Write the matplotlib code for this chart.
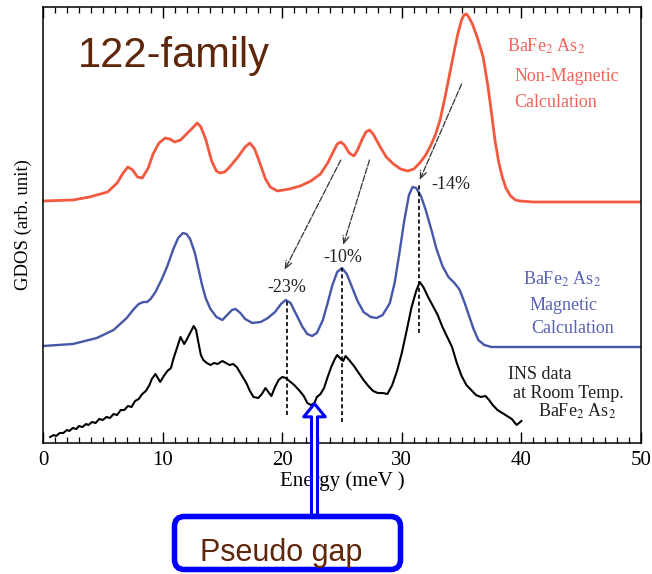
import numpy as np
import matplotlib
matplotlib.use("Agg")
import matplotlib.pyplot as plt
from matplotlib.patches import FancyBboxPatch, FancyArrowPatch
from matplotlib.ticker import MultipleLocator

plt.rcParams['font.family'] = ['Liberation Serif', 'DejaVu Serif']
plt.rcParams['mathtext.fontset'] = 'stix'

# non-magnetic calculation (energy in meV, GDOS in arb. units)
red_e = [0.0, 2.5, 3.9, 5.4, 6.2, 6.7, 7.1, 7.5, 7.9, 8.3, 8.8, 9.2, 9.7, 10.2, 10.6,
         11.0, 11.5, 12.0, 12.5, 12.9, 13.2, 13.6, 14.1, 14.5, 14.8, 15.2, 15.6, 16.3,
         16.9, 17.3, 17.7, 18.1, 18.6, 19.0, 19.6, 20.6, 21.5, 22.4, 23.2, 23.8, 24.3,
         24.6, 24.9, 25.2, 25.6, 26.0, 26.3, 26.7, 27.0, 27.3, 27.6, 28.2, 28.7, 29.3,
         29.9, 30.5, 31.0, 31.5, 32.0, 32.4, 32.8, 33.2, 33.6, 34.0, 34.4, 34.7, 35.0,
         35.2, 35.4, 35.6, 35.9, 36.3, 36.8, 37.2, 37.5, 37.8, 38.1, 38.4, 38.7, 39.1,
         39.5, 39.9, 41.0, 43.0, 46.0, 50.0]
red_v = [242, 243, 246, 251, 260, 270, 276, 273, 266, 265, 275, 289, 300, 305, 304,
         301, 303, 309, 315, 320, 316, 304, 282, 272, 270, 271, 276, 286,
         296, 300, 294, 281, 264, 256, 252, 254, 257, 262, 269, 280, 292,
         299, 301, 298, 290, 287, 293, 304, 311, 313, 309, 296, 286, 279,
         274, 272, 274, 280, 288, 297, 308, 323, 345, 369, 393, 410, 423,
         428, 429, 426, 419, 406, 386, 357, 330, 302, 281, 266, 255, 247,
         243, 242, 241, 241, 241, 241]

# magnetic calculation
blue_e = [0.0, 2.5, 4.5, 5.9, 7.0, 7.6, 8.0, 8.4, 8.7, 9.0, 9.4, 9.9, 10.4, 10.9, 11.3,
          11.7, 12.0, 12.3, 12.7, 13.0, 13.3, 13.6, 14.0, 14.5, 15.0, 15.4, 15.8, 16.1,
          16.5, 16.9, 17.5, 18.2, 18.8, 19.4, 19.9, 20.3, 20.7, 21.2, 21.7, 22.1, 22.5,
          22.9, 23.4, 23.8, 24.2, 24.6, 25.0, 25.4, 25.8, 26.3, 26.8, 27.4, 27.9, 28.4,
          29.0, 29.4, 29.8, 30.2, 30.6, 30.9, 31.2, 31.6, 32.0, 32.5, 32.9, 33.4, 33.9,
          34.4, 34.8, 35.2, 35.6, 36.0, 36.4, 36.9, 37.5, 38.5, 42.0, 50.0]
blue_v = [97, 99, 105, 113, 125, 134, 139, 141, 141, 144, 151, 163, 177, 194, 205,
          210, 209, 204, 190, 174, 158, 145, 134, 126, 123, 128, 133, 134,
          130, 124, 120, 121, 125, 131, 139, 143, 140, 128, 116, 109, 107,
          110, 123, 140, 158, 171, 175, 169, 157, 142, 131, 126, 125, 128,
          140, 160, 190, 222, 248, 256, 255, 247, 233, 212, 194, 177, 166,
          160, 154, 142, 128, 114, 103, 98, 96, 96, 96, 96]

# INS data at room temperature
ins_e = [0.6, 0.9, 1.1, 1.4, 1.7, 2.0, 2.2, 2.5, 2.8, 3.0, 3.3, 3.6, 3.8, 4.1, 4.4, 4.7,
         5.0, 5.3, 5.6, 5.9, 6.2, 6.5, 6.8, 7.1, 7.4, 7.7, 8.0, 8.3, 8.6, 8.9, 9.1, 9.4,
         9.6, 9.8, 10.1, 10.4, 10.7, 10.9, 11.2, 11.5, 11.8, 12.0, 12.3, 12.6, 12.8, 13.0,
         13.2, 13.4, 13.7, 14.0, 14.3, 14.6, 15.0, 15.3, 15.6, 15.9, 16.2, 16.6, 17.0,
         17.3, 17.6, 18.0, 18.3, 18.6, 18.9, 19.1, 19.4, 19.7, 20.0, 20.3, 20.6, 21.0,
         21.4, 21.8, 22.1, 22.4, 22.7, 22.9, 23.2, 23.5, 23.8, 24.1, 24.4, 24.6, 24.9,
         25.1, 25.3, 25.6, 26.0, 26.4, 26.8, 27.2, 27.6, 28.0, 28.4, 28.8, 29.2, 29.6,
         30.0, 30.4, 30.8, 31.2, 31.5, 31.8, 32.2, 32.6, 33.0, 33.4, 33.8, 34.2, 34.6,
         35.0, 35.4, 35.8, 36.2, 36.6, 37.0, 37.3, 37.6, 38.0, 38.4, 38.8, 39.2, 39.6, 40.0]
ins_v = [6, 8, 7, 10, 10, 13, 12, 15, 14, 17, 16, 19, 18, 21, 20, 24,
         23, 26, 25, 29, 28, 33, 33, 37, 36, 42, 44, 49, 52, 58, 64, 69,
         65, 61, 67, 72, 75, 84, 95, 106, 99, 103, 110, 117, 113, 100,
         88, 83, 80, 78, 80, 79, 82, 80, 78, 79, 76, 68, 60,
         52, 46, 45, 49, 55, 50, 47, 56, 63, 66, 65, 62, 58,
         53, 47, 40, 38, 40, 46, 49, 55, 66, 76, 84, 88, 84,
         82, 87, 83, 77, 70, 63, 57, 52, 50, 50, 49, 58, 72,
         90, 112, 135, 152, 161, 156, 146, 137, 128, 116, 106, 96, 80,
         67, 58, 53, 48, 46, 47, 43, 38, 33, 30, 27, 24, 18, 22]

# peaks compared between calculations
peak_e = [20.4, 25.0, 31.4]
peak_top = [143, 175, 258]
peak_bottom = [28, 21, 110]
shift_labels = ['-23%', '-10%', '-14%']
shift_arrows = [(24.9, 283, 20.2, 173), (27.3, 283, 25.1, 198), (35.0, 359, 31.5, 263)]
pseudo_gap_e = 22.7

red = '#f2593f'
blue = '#4656a8'
brown = '#5e260a'

fig = plt.figure(figsize=(6.52, 5.74), dpi=100)
ax = fig.add_axes([43 / 652, 131 / 574, 598 / 652, 436 / 574])

ax.plot(red_e, red_v, color=red, lw=2.0)
ax.plot(blue_e, blue_v, color=blue, lw=1.7)
ax.plot(ins_e, ins_v, color='black', lw=1.5)

for e, top, bot in zip(peak_e, peak_top, peak_bottom):
    ax.plot([e, e], [bot, top], color='black', lw=1.2, ls=(0, (2.5, 1.6)))

for x0, y0, x1, y1 in shift_arrows:
    ax.annotate('', xy=(x1, y1), xytext=(x0, y0),
                arrowprops=dict(arrowstyle='->,head_length=0.55,head_width=0.22',
                                color='#333333', lw=0.9, ls=(0, (5, 1.5)),
                                shrinkA=0, shrinkB=0))

ax.text(20.4, 151, shift_labels[0], ha='center', fontsize=13, color='#222222')
ax.text(25.1, 181, shift_labels[1], ha='center', fontsize=13, color='#222222')
ax.text(32.5, 254, shift_labels[2], ha='left', fontsize=13, color='#222222')

ax.text(38.8, 391, r'BaFe$_2$ As$_2$', fontsize=13, color='#f0645a')
ax.text(39.4, 362, 'Non-Magnetic', fontsize=13, color='#f0645a')
ax.text(39.4, 336, 'Calculation', fontsize=13, color='#f0645a')

ax.text(40.1, 158, r'BaFe$_2$ As$_2$', fontsize=13, color='#5a62b4')
ax.text(40.7, 133, 'Magnetic', fontsize=13, color='#5a62b4')
ax.text(40.8, 110, 'Calculation', fontsize=13, color='#5a62b4')

ax.text(38.9, 64, 'INS data', fontsize=13, color='#222222')
ax.text(39.3, 45, 'at Room Temp.', fontsize=13, color='#222222')
ax.text(41.4, 26, r'BaFe$_2$ As$_2$', fontsize=13, color='#222222')

ax.text(2.93, 376, '122-family', fontsize=30, color=brown, family='Liberation Sans')

ax.set_xlim(0, 50)
ax.set_ylim(0, 436)
ax.set_yticks([])
ax.xaxis.set_major_locator(MultipleLocator(10))
ax.xaxis.set_minor_locator(MultipleLocator(1))
ax.tick_params(axis='x', which='both', direction='in', top=True, bottom=True,
               labelsize=15, pad=6)
ax.tick_params(axis='x', which='major', length=8, width=1.0)
ax.tick_params(axis='x', which='minor', length=4, width=0.9)
for s in ax.spines.values():
    s.set_linewidth(1.1)

ax.set_xlabel('Energy (meV )', fontsize=15)
ax.xaxis.set_label_coords(0.5, -0.064)
ax.set_ylabel('GDOS (arb. unit)', fontsize=13.5)
ax.yaxis.set_label_coords(-0.018, 0.5)

# overlay in pixel units for the pseudo gap callout
ov = fig.add_axes([0, 0, 1, 1], zorder=5)
ov.set_xlim(0, 652)
ov.set_ylim(574, 0)
ov.axis('off')
ov.patch.set_alpha(0)

gap_v = np.interp(pseudo_gap_e, ins_e, ins_v) + 2
tip = ov.transData.inverted().transform(ax.transData.transform((pseudo_gap_e, gap_v)))
arrow = FancyArrowPatch((tip[0], 518), (tip[0], tip[1]),
                        arrowstyle='simple,head_length=9.4,head_width=15.5,tail_width=4.3',
                        mutation_scale=1, fc='white', ec='#0000ff', lw=2.2, zorder=5)
ov.add_patch(arrow)

box = FancyBboxPatch((174.5, 516.5), 226, 53,
                     boxstyle='round,pad=0,rounding_size=10',
                     fc='white', ec='#0000ff', lw=4, zorder=6)
ov.add_patch(box)
ov.text(281, 561, 'Pseudo gap', fontsize=22, color=brown, family='Liberation Sans',
        ha='center', va='baseline', zorder=7)

fig.savefig('out.png', dpi=100)
